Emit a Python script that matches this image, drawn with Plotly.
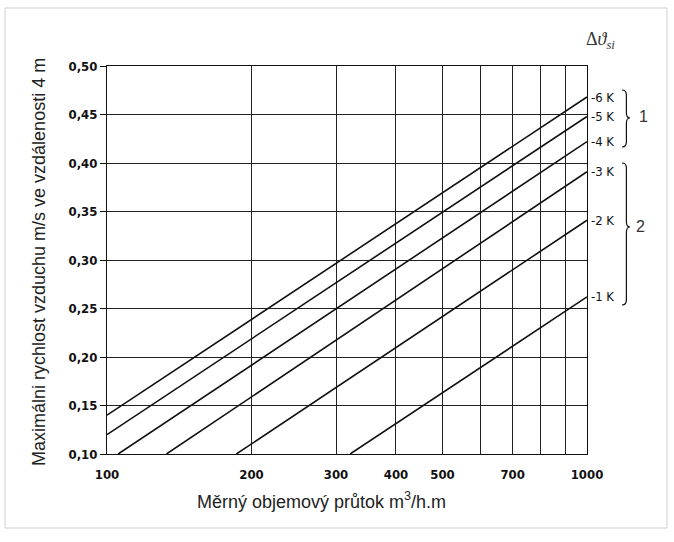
import plotly.graph_objects as go

# Data
labels = ["-6 K", "-5 K", "-4 K", "-3 K", "-2 K", "-1 K"]
x_start = [100, 100, 105.5, 133, 186, 321]
y_start = [0.14, 0.12, 0.10, 0.10, 0.10, 0.10]
x_end = [1000, 1000, 1000, 1000, 1000, 1000]
y_end = [0.468, 0.448, 0.422, 0.391, 0.341, 0.262]

x_ticks = [100, 200, 300, 400, 500, 700, 1000]
x_ticktext = ["100", "200", "300", "400", "500", "700", "1000"]
x_minor_grid = [600, 800, 900]
y_ticks = [0.10, 0.15, 0.20, 0.25, 0.30, 0.35, 0.40, 0.45, 0.50]
y_ticktext = ["0,10", "0,15", "0,20", "0,25", "0,30", "0,35", "0,40", "0,45", "0,50"]

W, H = 674, 542
L, R, T, B = 107, 87, 66, 88
pw, ph = W - L - R, H - T - B

def px(xp):
    return (xp - L) / pw

def py(yp):
    return (H - B - yp) / ph

fig = go.Figure()
for lab, xs, ys, xe, ye in zip(labels, x_start, y_start, x_end, y_end):
    fig.add_trace(go.Scatter(x=[xs, xe], y=[ys, ye], mode="lines",
                             line=dict(color="#111", width=1.6),
                             showlegend=False, hoverinfo="skip"))
    fig.add_annotation(x=3, y=ye, xref="x", yref="y", text=lab, showarrow=False,
                       xanchor="left", yanchor="middle", xshift=2,
                       font=dict(family="DejaVu Sans Condensed", size=13, color="#111"))

tick_font = dict(family="DejaVu Sans Condensed", size=13, color="#111", weight="bold")

fig.update_xaxes(type="log", range=[2, 3], tickvals=x_ticks, ticktext=x_ticktext,
                 showgrid=True, gridcolor="#222", gridwidth=1,
                 minor=dict(tickvals=x_minor_grid, showgrid=True, gridcolor="#222",
                            gridwidth=1, ticks=""),
                 showline=True, linecolor="#111", linewidth=1, mirror=True,
                 ticks="", tickfont=tick_font, zeroline=False, ticklabelstandoff=8)
fig.update_yaxes(range=[0.10, 0.50], tickvals=y_ticks, ticktext=y_ticktext,
                 showgrid=True, gridcolor="#222", gridwidth=1,
                 showline=True, linecolor="#111", linewidth=1, mirror=True,
                 ticks="outside", ticklen=6, tickcolor="#111",
                 tickfont=tick_font, zeroline=False)


def brace(x0, w, yt, yb, ym):
    xm = x0 + w * 0.55
    xt = x0 + w
    d = 5 / ph
    return (f"M {x0},{yt} Q {xm},{yt} {xm},{yt - d} L {xm},{ym + d} "
            f"Q {xm},{ym} {xt},{ym} Q {xm},{ym} {xm},{ym - d} L {xm},{yb + d} "
            f"Q {xm},{yb} {x0},{yb}")

shapes = [
    dict(type="path", xref="paper", yref="paper",
         path=brace(px(622), 8 / pw, py(90), py(147), py(118)),
         line=dict(color="#111", width=1.2)),
    dict(type="path", xref="paper", yref="paper",
         path=brace(px(622), 8 / pw, py(163), py(305), py(227)),
         line=dict(color="#111", width=1.2)),
    dict(type="rect", xref="paper", yref="paper",
         x0=px(5), x1=px(667), y0=py(528), y1=py(8),
         line=dict(color="#cfcfcf", width=1)),
]

common = dict(xref="paper", yref="paper", showarrow=False, xanchor="center", yanchor="middle")
annotations = [
    dict(x=px(643), y=py(116), text="1",
         font=dict(family="Liberation Sans", size=16, color="#333"), **common),
    dict(x=px(640), y=py(226), text="2",
         font=dict(family="Liberation Sans", size=16, color="#333"), **common),
    dict(x=px(600), y=py(40), text="Δ<i>ϑ</i><sub><i>si</i></sub>",
         font=dict(family="Liberation Serif", size=18, color="#333"), **common),
    dict(x=px(321), y=py(500), text="Měrný objemový průtok m<sup>3</sup>/h.m",
         font=dict(family="Liberation Sans", size=18, color="#222"), **common),
    dict(x=px(39), y=py(262), textangle=-90,
         text="Maximálni rychlost vzduchu m/s ve vzdálenosti 4 m",
         font=dict(family="Liberation Sans", size=18, color="#222"), **common),
]

fig.update_layout(width=W, height=H, margin=dict(l=L, r=R, t=T, b=B),
                  plot_bgcolor="white", paper_bgcolor="white",
                  shapes=shapes, annotations=list(fig.layout.annotations) + annotations,
                  showlegend=False)

fig.write_html("out.html")
